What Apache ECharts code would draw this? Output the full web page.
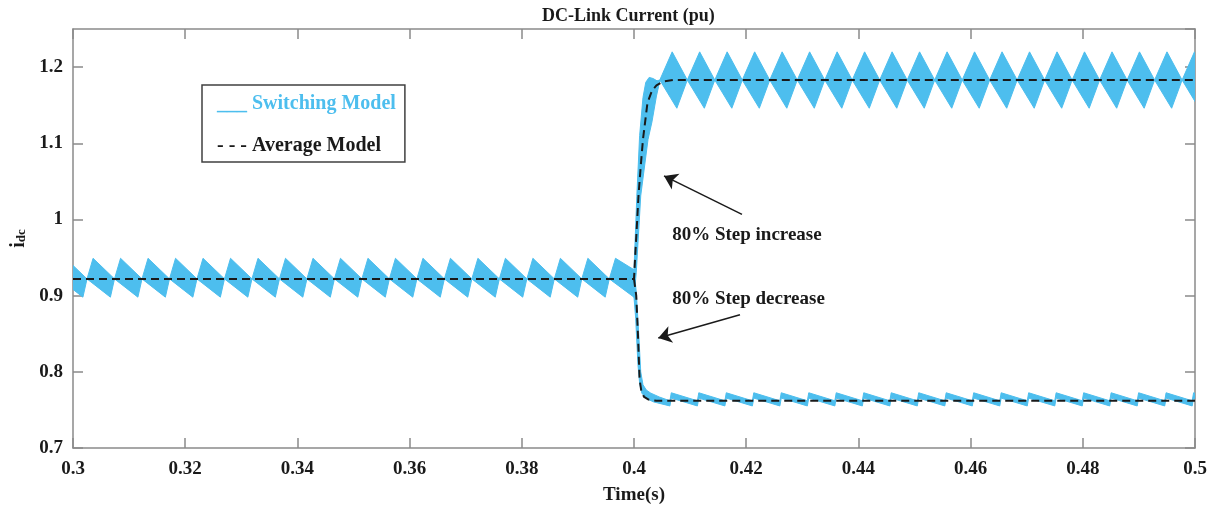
<!DOCTYPE html>
<html>
<head>
<meta charset="utf-8">
<script src="https://cdn.jsdelivr.net/npm/echarts@6.0.0/dist/echarts.min.js"></script>
<style>
  html, body { margin: 0; padding: 0; background: #fff; }
  #chart { width: 1219px; height: 508px; }
</style>
</head>
<body>
<div id="chart"></div>
<script>
// ---- axes ----
const xTicks = [0.3, 0.32, 0.34, 0.36, 0.38, 0.4, 0.42, 0.44, 0.46, 0.48, 0.5];
const yTicks = [0.7, 0.8, 0.9, 1, 1.1, 1.2];
const yMax = 1.25;

// ---- average model (pu) ----
const avgIncrease = [[0.3, 0.922], [0.4, 0.922], [0.4002, 0.95], [0.4005, 0.99], [0.4008, 1.031],
  [0.4012, 1.07], [0.4016, 1.105], [0.4024, 1.153], [0.4032, 1.169], [0.404, 1.176],
  [0.4052, 1.181], [0.407, 1.183], [0.5, 1.183]];
const avgDecrease = [[0.4, 0.922], [0.4004, 0.9], [0.4007, 0.85], [0.401, 0.79], [0.4013, 0.775],
  [0.4018, 0.767], [0.4026, 0.7635], [0.404, 0.762], [0.5, 0.762]];

// ---- switching model ripple ----
// pinch points of the ripple band before the step (s)
const preNodes = [0.2976, 0.3025, 0.3074, 0.3123, 0.3172, 0.3221, 0.3270, 0.3319, 0.3368, 0.3417,
  0.3466, 0.3515, 0.3564, 0.3613, 0.3662, 0.3711, 0.3760, 0.3809, 0.3858, 0.3907, 0.3956];
const preLevels = [0.922, 0.949, 0.898];          // pinch, crest, trough
const prePhase = [0.22, 0.85];                     // crest / trough position within a ripple
const preTailUpper = [[0.3967, 0.949], [0.4, 0.934]];
const preTailLower = [[0.4, 0.898]];

// after the 80% increase
const upNodes = [0.4046, 0.4095, 0.4144, 0.4193, 0.4242, 0.4291, 0.4340, 0.4389, 0.4438, 0.4487,
  0.4536, 0.4585, 0.4634, 0.4683, 0.4732, 0.4781, 0.4830, 0.4879, 0.4928, 0.4977, 0.5026];
const upLevels = [1.183, 1.22, 1.146];
const upPhase = [0.45, 0.62];
const riseUpper = [[0.4, 0.934], [0.4005, 1.03], [0.401, 1.11], [0.4016, 1.16], [0.4021, 1.18],
  [0.4027, 1.1865], [0.4034, 1.185], [0.4041, 1.182], [0.4046, 1.183]];
const riseLower = [[0.4, 0.898], [0.4004, 0.93], [0.4012, 1.031], [0.4025, 1.105], [0.4032, 1.128],
  [0.404, 1.162], [0.4044, 1.175], [0.4046, 1.183]];

// after the 80% decrease (sawtooth ripple, rising edges in s)
const downRises = [0.4064, 0.4113, 0.4162, 0.4211, 0.4260, 0.4309, 0.4358, 0.4407, 0.4456, 0.4505,
  0.4554, 0.4603, 0.4652, 0.4701, 0.4750, 0.4799, 0.4848, 0.4897, 0.4946, 0.4995, 0.5044];
const sawHigh = [0.762, 0.7725];   // upper edge: before / after a rising edge
const sawLow = [0.7552, 0.7655];   // lower edge: before / after a rising edge
const fallUpper = [[0.4, 0.934], [0.4004, 0.905], [0.4008, 0.855], [0.4012, 0.80], [0.4016, 0.783],
  [0.4022, 0.776], [0.403, 0.772], [0.4045, 0.767], [0.4064, 0.762]];
const fallLower = [[0.4, 0.898], [0.4003, 0.87], [0.4007, 0.81], [0.401, 0.785], [0.4014, 0.772],
  [0.4022, 0.765], [0.4035, 0.7605], [0.4064, 0.7552]];

// ---- annotations ----
const notes = [
  { text: '80% Step increase', at: [0.4068, 0.980], tail: [0.41925, 1.0066], tip: [0.40535, 1.0572] },
  { text: '80% Step decrease', at: [0.4068, 0.896], tail: [0.41889, 0.875], tip: [0.40433, 0.8443] }
];

const BLUE = '#4DBEEE';
const INK = '#1a1a1a';
const AXIS = '#8a8a8a';
const FONT = "'Liberation Serif', 'Times New Roman', serif";
const RISE_WIDTH = 0.00025;

// diamond-like ripple band between consecutive pinch points
function rippleBand(nodes, levels, phase) {
  const [mid, crest, trough] = levels;
  const upper = [], lower = [];
  for (let k = 0; k < nodes.length - 1; k++) {
    const t0 = nodes[k], span = nodes[k + 1] - t0;
    upper.push([t0, mid], [t0 + phase[0] * span, crest]);
    lower.push([t0, mid], [t0 + phase[1] * span, trough]);
  }
  const tEnd = nodes[nodes.length - 1];
  upper.push([tEnd, mid]);
  lower.push([tEnd, mid]);
  return { upper, lower };
}

// sloped sawtooth band with sharp rising edges
function sawBand(rises, high, low) {
  const upper = [], lower = [];
  for (let k = 0; k < rises.length - 1; k++) {
    const t0 = rises[k];
    upper.push([t0, high[0]], [t0 + RISE_WIDTH, high[1]]);
    lower.push([t0, low[0]], [t0 + RISE_WIDTH, low[1]]);
  }
  const tEnd = rises[rises.length - 1];
  upper.push([tEnd, high[0]]);
  lower.push([tEnd, low[0]]);
  return { upper, lower };
}

function polygon(upper, lower) {
  return upper.concat(lower.slice().reverse());
}

const pre = rippleBand(preNodes, preLevels, prePhase);
const up = rippleBand(upNodes, upLevels, upPhase);
const down = sawBand(downRises, sawHigh, sawLow);

const switchingBands = [
  polygon(pre.upper.concat(preTailUpper), pre.lower.concat(preTailLower)),
  polygon(riseUpper.concat(up.upper), riseLower.concat(up.lower)),
  polygon(fallUpper.concat(down.upper), fallLower.concat(down.lower))
];

const labelStyle = { color: INK, fontFamily: FONT, fontWeight: 'bold', fontSize: 19 };
const lineAxis = { show: true, lineStyle: { color: AXIS, width: 1.5 } };
const tickAxis = { show: true, inside: true, length: 10, lineStyle: { color: AXIS, width: 1.5 } };
const fmt = v => String(+v.toFixed(3));

const chart = echarts.init(document.getElementById('chart'));
chart.setOption({
  animation: false,
  backgroundColor: '#fff',
  title: {
    text: 'DC-Link Current (pu)',
    left: 537, top: 2,
    textStyle: { color: INK, fontFamily: FONT, fontWeight: 'bold', fontSize: 18 }
  },
  legend: {
    orient: 'vertical',
    left: 202, top: 85,
    padding: [8, 9, 5, 10],
    itemGap: 20,
    itemWidth: 0, itemHeight: 20,
    selectedMode: false,
    borderColor: '#404040', borderWidth: 1.5,
    backgroundColor: '#fff',
    textStyle: { fontFamily: FONT, fontWeight: 'bold', fontSize: 20, lineHeight: 22 },
    formatter: name => (name === 'Switching Model' ? '___ ' : '- - - ') + name,
    data: [
      { name: 'Switching Model', icon: 'none', textStyle: { color: BLUE } },
      { name: 'Average Model', icon: 'none', textStyle: { color: INK } }
    ]
  },
  grid: { left: 73, right: 24, top: 29, bottom: 60, outerBoundsMode: 'none', containLabel: false },
  xAxis: [
    {
      type: 'value', position: 'bottom',
      min: xTicks[0], max: xTicks[xTicks.length - 1], interval: 0.02,
      axisLine: lineAxis, axisTick: tickAxis, splitLine: { show: false },
      axisLabel: Object.assign({ margin: 12, formatter: fmt }, labelStyle),
      name: 'Time(s)', nameLocation: 'middle', nameGap: 38,
      nameTextStyle: labelStyle
    },
    {
      type: 'value', position: 'top',
      min: xTicks[0], max: xTicks[xTicks.length - 1], interval: 0.02,
      axisLine: lineAxis, axisTick: tickAxis, splitLine: { show: false },
      axisLabel: { show: false }
    }
  ],
  yAxis: [
    {
      type: 'value', position: 'left',
      min: yTicks[0], max: yMax, interval: 0.1,
      axisLine: lineAxis, axisTick: tickAxis, splitLine: { show: false },
      axisLabel: Object.assign({
        margin: 10, showMaxLabel: false,
        formatter: v => yTicks.some(t => Math.abs(t - v) < 1e-6) ? fmt(v) : ''
      }, labelStyle),
      name: '{i|i}{sub|dc}', nameLocation: 'middle', nameRotate: 90, nameGap: 44,
      nameTextStyle: {
        rich: {
          i: { fontFamily: FONT, fontWeight: 'bold', fontSize: 20, color: INK, lineHeight: 20 },
          sub: { fontFamily: FONT, fontWeight: 'bold', fontSize: 13, color: INK, verticalAlign: 'bottom', lineHeight: 20, padding: [8, 0, 0, 0] }
        }
      }
    },
    {
      type: 'value', position: 'right',
      min: yTicks[0], max: yMax, interval: 0.1,
      axisLine: lineAxis, axisTick: tickAxis, splitLine: { show: false },
      axisLabel: { show: false }
    }
  ],
  series: [
    {
      name: 'Switching Model',
      type: 'custom',
      clip: true,
      z: 2,
      itemStyle: { color: BLUE },
      encode: { x: 0, y: 1 },
      data: switchingBands.map(b => [b[0][0], b[0][1]]),
      renderItem: function (params, api) {
        const pts = switchingBands[params.dataIndex].map(p => api.coord(p));
        return {
          type: 'polygon',
          shape: { points: pts },
          style: { fill: BLUE, stroke: BLUE, lineWidth: 1, lineJoin: 'round' }
        };
      }
    },
    {
      name: 'Average Model',
      type: 'line',
      z: 3,
      showSymbol: false,
      symbol: 'none',
      color: INK,
      lineStyle: { color: INK, width: 2, type: [8, 5] },
      data: avgIncrease,
      markLine: {
        silent: true,
        symbol: ['none', 'arrow'],
        symbolSize: 13,
        label: { show: false },
        lineStyle: { color: INK, width: 1.5, type: 'solid' },
        data: notes.map(n => [{ coord: n.tail }, { coord: n.tip }])
      },
      markPoint: {
        silent: true,
        symbol: 'circle',
        symbolSize: 0,
        label: {
          show: true, position: 'right', distance: 0,
          formatter: p => p.name,
          color: INK, fontFamily: FONT, fontWeight: 'bold', fontSize: 19
        },
        data: notes.map(n => ({ name: n.text, coord: n.at }))
      }
    },
    {
      name: 'Average Model',
      type: 'line',
      z: 3,
      showSymbol: false,
      symbol: 'none',
      color: INK,
      lineStyle: { color: INK, width: 2, type: [8, 5] },
      data: avgDecrease
    }
  ]
});
</script>
</body>
</html>
